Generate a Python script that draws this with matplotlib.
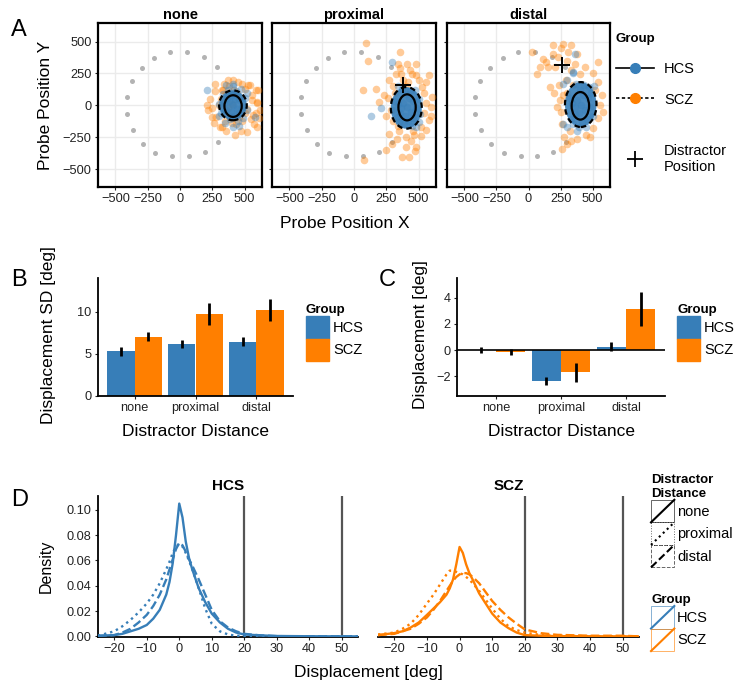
import numpy as np
import matplotlib
matplotlib.use("Agg")
import matplotlib.pyplot as plt
from matplotlib.patches import Ellipse, Patch, Rectangle
from matplotlib.lines import Line2D
from matplotlib.legend_handler import HandlerBase

plt.rcParams["font.family"] = ["Liberation Sans", "DejaVu Sans"]

HCS_C = "#377EB8"
SCZ_C = "#FF7F00"

# ---------------- data ----------------
conditions = ["none", "proximal", "distal"]
groups = ["HCS", "SCZ"]

# probe ring (gray dots), same for each panel
ring = [(-413, 63), (-413, -68), (-375, 188), (-367, -190), (-297, 293), (-289, -303),
        (-199, 371), (-191, -372), (-78, 415), (-60, -400), (54, 415), (70, -400),
        (186, 379), (191, -367), (284, 301), (294, -290)]

# distractor positions (none has no distractor)
distractor = {"none": None, "proximal": (382, 157), "distal": (263, 319)}

pts_hcs = {
    "none": [(410, 0), (380, 30), (440, -30), (360, -40), (460, 40), (400, 80), (420, -80),
             (340, 20), (480, -10), (390, -110), (430, 110), (320, -60), (500, 60), (370, 120),
             (450, -120), (300, 10), (520, -40), (410, 150), (350, -140), (470, 130), (395, -50),
             (425, 50), (365, 60), (455, -60), (405, 100), (385, -90), (435, 90), (207, 117),
             (581, -91), (330, 90), (490, -100), (300, -80), (520, 100), (360, 160), (460, -160),
             (410, -170), (410, 170)],
    "proximal": [(411, -15), (380, 20), (440, -50), (360, -60), (460, 30), (400, 90), (420, -120),
                 (340, 10), (480, -20), (390, -150), (430, 110), (330, -90), (500, 50), (370, 130),
                 (450, -160), (310, 30), (510, -70), (350, -130), (470, 120), (395, -80), (425, 60),
                 (365, -20), (455, -100), (134, -86), (297, 339), (207, -18), (480, -170),
                 (340, 150), (500, -130), (300, -40)],
    "distal": [(407, 0), (380, 40), (440, -40), (360, -70), (460, 60), (400, 120), (420, -130),
               (340, 20), (480, -10), (390, -170), (430, 160), (330, -110), (490, 100), (370, 170),
               (450, -170), (320, 60), (500, -80), (350, -150), (470, 140), (395, -60), (425, 80),
               (365, -10), (455, -110), (300, 200), (350, 250), (300, -170), (510, 150),
               (380, -200), (362, 405), (349, 261), (271, 170), (271, -144)],
}

pts_scz = {
    "none": [(207, 0), (233, 52), (271, 170), (375, 196), (530, 157), (607, 117), (594, 26),
             (568, -78), (594, -170), (517, -209), (426, -235), (323, -170), (245, -91), (220, -39),
             (556, 39), (478, 170), (323, 117), (400, 10), (350, -50), (460, 60), (300, 0),
             (520, -30), (380, 150), (430, -150), (250, -20), (560, 80), (330, 120), (480, -120),
             (280, -90), (540, 160), (410, 200), (360, -200), (590, -60), (450, 180), (310, -170),
             (500, 130), (600, 20), (270, 110), (570, -150), (340, 170), (470, -200), (610, -100),
             (390, -90), (440, 100), (320, 50), (500, -60), (360, 90), (460, -90), (260, -140),
             (585, 120), (400, -140), (620, -40), (350, -120), (550, -110), (420, 120), (370, -20)],
    "proximal": [(90, 488), (109, 347), (357, 418), (413, 326), (344, 326), (478, 326), (581, 235),
                 (556, 183), (70, 118), (168, 131), (194, 26), (233, 78), (323, 248), (452, 248),
                 (530, 144), (594, -13), (581, -117), (556, -196), (478, -326), (375, -405),
                 (426, -405), (245, -352), (297, -300), (78, -426), (271, -222), (400, -248),
                 (465, -235), (517, -170), (362, 248), (271, 196), (607, 65), (300, 150), (380, 200),
                 (420, 180), (500, 200), (540, 100), (560, 20), (540, -60), (520, -240), (440, -280),
                 (350, -200), (300, -120), (260, 60), (290, -40), (330, -260), (470, -360),
                 (400, -330), (360, 290), (430, 280), (480, 240), (340, -160), (600, -80), (250, -80),
                 (400, 150), (460, -200), (320, 100)],
    "distal": [(26, 418), (116, 366), (194, 470), (271, 483), (310, 418), (90, 300), (155, 300),
               (65, 248), (168, 144), (245, 39), (220, -13), (258, -340), (297, -300), (543, 339),
               (194, 405), (362, 326), (400, 248), (375, 405), (230, 380), (300, 350), (250, 450),
               (140, 340), (330, 470), (210, 300), (330, 280), (290, 200), (200, 100), (250, -50),
               (260, -150), (280, -250), (330, -280), (380, -260), (450, -230), (500, -180),
               (540, -100), (560, 0), (570, 80), (540, 180), (500, 250), (440, 300), (300, 100),
               (320, -200), (480, -250), (580, -50), (520, 120), (350, 160), (240, 160), (270, 80)],
}

# ellipses: (cx, cy, semi_x, semi_y)
ell_hcs = {"none": (411, -6, 67, 85), "proximal": (411, -16, 67, 102), "distal": (404, -4, 68, 108)}
ell_scz = {"none": (410, 0, 107, 117), "proximal": (405, -20, 120, 163), "distal": (407, 6, 123, 176)}

# panel B: displacement SD
sd_hcs = [5.3, 6.2, 6.45]
sd_hcs_err = [0.5, 0.45, 0.5]
sd_scz = [7.05, 9.75, 10.15]
sd_scz_err = [0.55, 1.3, 1.3]

# panel C: mean displacement
m_hcs = [0.0, -2.33, 0.27]
m_hcs_err = [0.2, 0.3, 0.33]
m_scz = [-0.15, -1.7, 3.12]
m_scz_err = [0.25, 0.72, 1.3]

# panel D: densities
dens_x = [-25, -20, -17.5, -15, -12.5, -10, -8, -6, -4, -3, -2, -1, 0, 1, 2, 3, 4, 6, 8, 10,
          12.5, 15, 17.5, 20, 25, 30, 40, 50, 55]
dens = {
    ("HCS", "none"): [0.0005, 0.001, 0.002, 0.004, 0.006, 0.009, 0.014, 0.021, 0.033, 0.043, 0.058,
                      0.08, 0.105, 0.094, 0.075, 0.062, 0.053, 0.038, 0.027, 0.018, 0.011, 0.006,
                      0.003, 0.0015, 0.0008, 0.0003, 0.0001, 0.0, 0.0],
    ("HCS", "proximal"): [0.0005, 0.004, 0.008, 0.013, 0.019, 0.026, 0.033, 0.042, 0.053, 0.059,
                          0.066, 0.071, 0.073, 0.071, 0.066, 0.06, 0.053, 0.038, 0.022, 0.01, 0.004,
                          0.0015, 0.0005, 0.0002, 0.0, 0.0, 0.0, 0.0, 0.0],
    ("HCS", "distal"): [0.0003, 0.001, 0.003, 0.006, 0.011, 0.017, 0.024, 0.033, 0.045, 0.053, 0.061,
                        0.069, 0.074, 0.072, 0.067, 0.061, 0.056, 0.045, 0.033, 0.021, 0.012, 0.007,
                        0.004, 0.002, 0.0008, 0.0002, 0.0, 0.0, 0.0],
    ("SCZ", "none"): [0.001, 0.0026, 0.004, 0.007, 0.011, 0.017, 0.022, 0.027, 0.033, 0.038, 0.045,
                      0.057, 0.0707, 0.066, 0.057, 0.05, 0.045, 0.034, 0.026, 0.018, 0.011, 0.0065,
                      0.003, 0.001, 0.0005, 0.0002, 0.0001, 0.0, 0.0],
    ("SCZ", "proximal"): [0.0015, 0.003, 0.006, 0.010, 0.017, 0.026, 0.033, 0.041, 0.049, 0.052,
                          0.052, 0.051, 0.050, 0.049, 0.047, 0.045, 0.042, 0.036, 0.029, 0.022,
                          0.014, 0.008, 0.005, 0.003, 0.001, 0.0005, 0.0002, 0.0, 0.0],
    ("SCZ", "distal"): [0.001, 0.002, 0.004, 0.006, 0.010, 0.015, 0.021, 0.028, 0.036, 0.040, 0.044,
                        0.047, 0.049, 0.050, 0.050, 0.049, 0.047, 0.042, 0.035, 0.028, 0.021, 0.015,
                        0.010, 0.0055, 0.0025, 0.0012, 0.0005, 0.0005, 0.0],
}
cutoffs = [20, 50]

# ---------------- layout helpers ----------------
W, H = 750, 692


def fx(px):
    return px / W


def fy(py):
    return 1 - py / H


def box(x0, y0, x1, y1):
    return [fx(x0), fy(y1), (x1 - x0) / W, (y1 - y0) / H]


fig = plt.figure(figsize=(7.5, 6.92), dpi=100)
colors = {"HCS": HCS_C, "SCZ": SCZ_C}
lstyles = {"none": "-", "proximal": ":", "distal": "--"}
TICK_FS = 9.2

# ---------------- panel A ----------------
a_boxes = [(98, 23, 262, 187), (272, 23, 436, 187), (447, 23, 610, 187)]
ticks_a = [-500, -250, 0, 250, 500]
for i, cond in enumerate(conditions):
    ax = fig.add_axes(box(*a_boxes[i]))
    ax.set_xlim(-635, 635)
    ax.set_ylim(-640, 645)
    ax.set_xticks(ticks_a)
    ax.set_yticks(ticks_a)
    ax.grid(color="#EBEBEB", lw=1)
    ax.set_axisbelow(True)
    for s in ax.spines.values():
        s.set_linewidth(1.6)
    ax.tick_params(labelsize=TICK_FS, length=2.5, width=0.8, pad=2, colors="#222222")
    if i > 0:
        ax.tick_params(axis="y", labelleft=False)
    r = np.array(ring)
    ax.scatter(r[:, 0], r[:, 1], s=13, color="#9A9A9A", alpha=0.75, lw=0, zorder=2)
    o = np.array(pts_scz[cond])
    ax.scatter(o[:, 0], o[:, 1], s=30, color=SCZ_C, alpha=0.4, lw=0, zorder=3)
    b = np.array(pts_hcs[cond])
    ax.scatter(b[:, 0], b[:, 1], s=30, color=HCS_C, alpha=0.4, lw=0, zorder=4)
    cx, cy, sx, sy = ell_scz[cond]
    ax.add_patch(Ellipse((cx, cy), 2 * sx, 2 * sy, fc=HCS_C, ec="none",
                         alpha=0.9, zorder=5))
    ax.add_patch(Ellipse((cx, cy), 2 * sx, 2 * sy, fill=False, ec="black", lw=1.6,
                         ls=(0, (2.5, 1.8)), zorder=6))
    cx, cy, sx, sy = ell_hcs[cond]
    ax.add_patch(Ellipse((cx, cy), 2 * sx, 2 * sy, fill=False, ec="black", lw=1.6, zorder=6))
    if distractor[cond] is not None:
        dx, dy = distractor[cond]
        ax.plot([dx], [dy], marker="+", ms=11, mew=1.4, color="black", zorder=7)
    ax.set_title(cond, fontsize=10.5, fontweight="bold", pad=3)

fig.text(fx(19), fy(30), "A", fontsize=17, ha="center", va="center")
fig.text(fx(46), fy(105), "Probe Position Y", fontsize=12.5, rotation=90, ha="center", va="center")
fig.text(fx(345), fy(223), "Probe Position X", fontsize=12.5, ha="center", va="center")

h1 = Line2D([], [], color="black", ls="-", lw=1.2, marker="o", ms=7, mfc=HCS_C, mec=HCS_C)
h2 = Line2D([], [], color="black", ls=(0, (2, 1.5)), lw=1.2, marker="o", ms=7, mfc=SCZ_C, mec=SCZ_C)
fig.legend([h1, h2], ["HCS", "SCZ"], title="Group", loc="upper left",
           bbox_to_anchor=(fx(616), fy(33)), frameon=False, fontsize=10.5,
           title_fontproperties={"weight": "bold", "size": 9.5}, handlelength=2.6,
           labelspacing=1.15, handletextpad=0.7, alignment="left", borderpad=0, borderaxespad=0)
h3 = Line2D([], [], color="black", ls="none", marker="+", ms=11, mew=1.3)
fig.legend([h3], ["Distractor\nPosition"], loc="upper left", bbox_to_anchor=(fx(616), fy(144)),
           frameon=False, fontsize=10.5, handlelength=2.6, handletextpad=0.7, borderpad=0,
           borderaxespad=0)

# ---------------- panels B and C ----------------
xpos = np.arange(1, 4)
bw = 0.45


def bar_panel(rect, h_vals, h_err, s_vals, s_err, ylim, yticks, ylabel, ylab_x, letter, letter_x,
              leg_x, zero_line=False):
    ax = fig.add_axes(box(*rect))
    ax.bar(xpos - bw / 2, h_vals, bw, color=HCS_C, zorder=2)
    ax.bar(xpos + bw / 2, s_vals, bw, color=SCZ_C, zorder=2)
    ax.errorbar(xpos - bw / 2, h_vals, yerr=h_err, fmt="none", ecolor="black", elinewidth=2,
                capsize=0, zorder=3)
    ax.errorbar(xpos + bw / 2, s_vals, yerr=s_err, fmt="none", ecolor="black", elinewidth=2,
                capsize=0, zorder=3)
    if zero_line:
        ax.axhline(0, color="black", lw=1.2, zorder=4)
    ax.set_xlim(0.4, 3.6)
    ax.set_ylim(*ylim)
    ax.set_yticks(yticks)
    ax.set_xticks(xpos)
    ax.set_xticklabels(conditions)
    for s in ["top", "right"]:
        ax.spines[s].set_visible(False)
    for s in ["left", "bottom"]:
        ax.spines[s].set_linewidth(1.3)
    ax.tick_params(labelsize=TICK_FS, length=2.5, width=0.8, pad=2, colors="#222222")
    x0, y0, x1, y1 = rect
    fig.text(fx(ylab_x), fy((y0 + y1) / 2 - 2), ylabel, fontsize=12.5, rotation=90, ha="center",
             va="center")
    fig.text(fx((x0 + x1) / 2), fy(432), "Distractor Distance", fontsize=12.5, ha="center",
             va="center")
    fig.text(fx(letter_x), fy(280), letter, fontsize=17, ha="center", va="center")
    fig.legend([Patch(color=HCS_C), Patch(color=SCZ_C)], groups, title="Group",
               loc="upper left", bbox_to_anchor=(fx(leg_x), fy(304)), frameon=False,
               fontsize=10.5, title_fontproperties={"weight": "bold", "size": 9.5},
               handlelength=1.6, handleheight=2.0, labelspacing=0, handletextpad=0.25,
               alignment="left", borderpad=0, borderaxespad=0)
    return ax


bar_panel((98, 278, 293, 396), sd_hcs, sd_hcs_err, sd_scz, sd_scz_err, (0, 14), [0, 5, 10],
          "Displacement SD [deg]", 49, "B", 19, 306)
bar_panel((457, 278, 665, 396), m_hcs, m_hcs_err, m_scz, m_scz_err, (-3.5, 5.5), [-2, 0, 2, 4],
          "Displacement [deg]", 420, "C", 387, 677, zero_line=True)

# ---------------- panel D ----------------
d_boxes = {"HCS": (98, 496, 358, 637), "SCZ": (378, 496, 639, 637)}
for g in groups:
    ax = fig.add_axes(box(*d_boxes[g]))
    for c in conditions:
        ax.plot(dens_x, dens[(g, c)], color=colors[g], ls=lstyles[c], lw=1.7, zorder=3)
    for v in cutoffs:
        ax.axvline(v, color="#555555", lw=1.6, zorder=2)
    ax.set_xlim(-25, 55)
    ax.set_ylim(-0.0005, 0.111)
    ax.set_xticks(np.arange(-20, 51, 10))
    ax.set_yticks([0, 0.02, 0.04, 0.06, 0.08, 0.10])
    ax.set_yticklabels(["0.00", "0.02", "0.04", "0.06", "0.08", "0.10"])
    for s in ["top", "right"]:
        ax.spines[s].set_visible(False)
    for s in ["left", "bottom"]:
        ax.spines[s].set_linewidth(1.3)
    ax.tick_params(labelsize=TICK_FS, length=2.5, width=0.8, pad=2, colors="#222222")
    if g == "SCZ":
        ax.spines["left"].set_visible(False)
        ax.tick_params(axis="y", left=False, labelleft=False)
    ax.set_title(g, fontsize=11, fontweight="bold", pad=4)

fig.text(fx(20), fy(500), "D", fontsize=17, ha="center", va="center")
fig.text(fx(46), fy(566), "Density", fontsize=11.5, rotation=90, ha="center", va="center")
fig.text(fx(368), fy(672), "Displacement [deg]", fontsize=12.5, ha="center", va="center")


class DiagKey(HandlerBase):
    def create_artists(self, legend, orig, xd, yd, w, h, fs, trans):
        c = orig.get_color()
        ls = orig.get_linestyle()
        frame = Rectangle((-xd, -yd), w, h, fill=False, ec=c, ls=ls, lw=0.7, alpha=0.6,
                          transform=trans)
        diag = Line2D([-xd, -xd + w], [-yd, -yd + h], color=c, ls=ls, lw=1.5, transform=trans)
        return [frame, diag]


dist_handles = [Line2D([], [], color="black", ls=lstyles[c]) for c in conditions]
fig.legend(dist_handles, conditions, title="Distractor\nDistance", loc="upper left",
           bbox_to_anchor=(fx(651), fy(474)), frameon=False, fontsize=10.5,
           title_fontproperties={"weight": "bold", "size": 9.5}, handlelength=1.6,
           handleheight=2.0, labelspacing=0.0, handletextpad=0.2, alignment="left",
           borderpad=0, borderaxespad=0, handler_map={Line2D: DiagKey()})
grp_handles = [Line2D([], [], color=colors[g], ls="-") for g in groups]
fig.legend(grp_handles, groups, title="Group", loc="upper left",
           bbox_to_anchor=(fx(651), fy(594)), frameon=False, fontsize=10.5,
           title_fontproperties={"weight": "bold", "size": 9.5}, handlelength=1.6,
           handleheight=2.0, labelspacing=0.0, handletextpad=0.2, alignment="left",
           borderpad=0, borderaxespad=0, handler_map={Line2D: DiagKey()})

fig.savefig("out.png", dpi=100)
